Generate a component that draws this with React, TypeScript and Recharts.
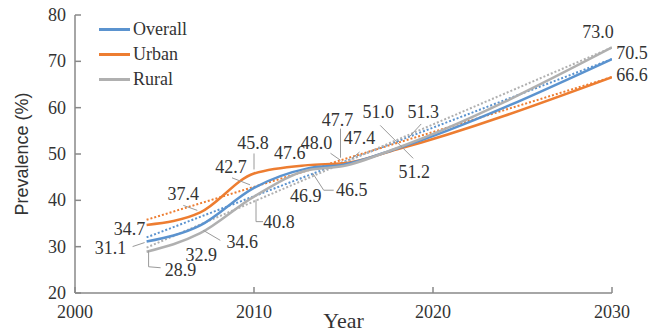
import { LineChart, Line, XAxis, YAxis, LabelList, Label } from 'recharts';

// survey years plus the 2030 projection
const years = [2004, 2007, 2010, 2013, 2015, 2018, 2030];
const overall = [31.1, 34.6, 42.7, 46.9, 47.7, 51.2, 70.5];
const urban = [34.7, 37.4, 45.8, 47.6, 48.0, 51.0, 66.6];
const rural = [28.9, 32.9, 40.8, 46.5, 47.4, 51.3, 73.0];

// linear trend end points
const trendYears = [2004, 2030];
const overallTrend = [32.0, 70.5];
const urbanTrend = [35.8, 66.6];
const ruralTrend = [29.8, 73.0];

const xTicks = [2000, 2010, 2020, 2030];
const yTicks = [20, 30, 40, 50, 60, 70, 80];

const BLUE = '#5b93cf';
const ORANGE = '#ed7d31';
const GRAY = '#b0b0b0';
const TEXT = '#333';
const SERIF = '"Liberation Serif", "DejaVu Serif", serif';

const chartData = years.map((year, i) => ({
  year,
  overall: overall[i],
  urban: urban[i],
  rural: rural[i],
}));

const trendData = trendYears.map((year, i) => ({
  year,
  overall: overallTrend[i],
  urban: urbanTrend[i],
  rural: ruralTrend[i],
}));

// callout placement per point: label offset and leader polyline, relative to the point
type Callout = { dx: number; dy: number; leader?: [number, number][] };

const urbanCallouts: Callout[] = [
  { dx: -17, dy: 4 },
  { dx: -17, dy: -18, leader: [[-17, -7], [-3, -2]] },
  { dx: -1, dy: -30, leader: [[0, -20], [0, -4]] },
  { dx: -18, dy: -12 },
  { dx: -27, dy: -20, leader: [[-13, -10], [-3, -3]] },
  { dx: -19, dy: -37, leader: [[-17, -24], [16, 9]] },
  { dx: 20, dy: -2 },
];

const overallCallouts: Callout[] = [
  { dx: -36, dy: 6, leader: [[-14, 5], [-2, 1]] },
  { dx: 42, dy: 17, leader: [[20, 15], [3, 5]] },
  { dx: -23, dy: -21, leader: [[-22, -10], [-4, -3]] },
  { dx: -2, dy: 28 },
  { dx: -6, dy: -45, leader: [[-3, -36], [-3, -7]] },
  { dx: 17, dy: 24 },
  { dx: 20, dy: -6 },
];

const ruralCallouts: Callout[] = [
  { dx: 34, dy: 18, leader: [[2, -1], [2, 15], [14, 16]] },
  { dx: 1, dy: 22 },
  { dx: 25, dy: 25, leader: [[2, 3], [2, 25], [9, 25]] },
  { dx: 44, dy: 20, leader: [[26, 20], [16, 20], [5, 3]] },
  { dx: 16, dy: -28, leader: [[16, -14], [8, -7]] },
  { dx: 26, dy: -36, leader: [[24, -24], [12, -11]] },
  { dx: -14, dy: -15 },
];

const makeCallout = (layout: Callout[]) => (props: any) => {
  const { x, y, value, index } = props;
  const c = layout[index];
  if (!c || x == null || y == null) return null;
  return (
    <g key={`c-${index}`}>
      {c.leader && (
        <polyline
          points={c.leader.map(([px, py]) => `${x + px},${y + py}`).join(' ')}
          fill="none"
          stroke="#9a9a9a"
          strokeWidth={1}
        />
      )}
      <text
        x={x + c.dx}
        y={y + c.dy}
        textAnchor="middle"
        dominantBaseline="central"
        fontFamily={SERIF}
        fontSize={18}
        fill={TEXT}
      >
        {Number(value).toFixed(1)}
      </text>
    </g>
  );
};

const XTick = (props: any) => {
  const { x, y, payload } = props;
  return (
    <g>
      <line x1={x} y1={y} x2={x} y2={y - 6} stroke="#888" strokeWidth={1.5} />
      <text x={x} y={y + 19} textAnchor="middle" dominantBaseline="central" fontFamily={SERIF} fontSize={18} fill={TEXT}>
        {payload.value}
      </text>
    </g>
  );
};

const YTick = (props: any) => {
  const { x, y, payload } = props;
  return (
    <g>
      <line x1={x} y1={y} x2={x + 6} y2={y} stroke="#888" strokeWidth={1.5} />
      <text x={x - 9} y={y} textAnchor="end" dominantBaseline="central" fontFamily={SERIF} fontSize={18} fill={TEXT}>
        {payload.value}
      </text>
    </g>
  );
};

const legendItems = [
  { name: 'Overall', color: BLUE },
  { name: 'Urban', color: ORANGE },
  { name: 'Rural', color: GRAY },
];

// legend drawn as an overlay so it does not take room from the plot
function ChartLegend() {
  return (
    <div
      style={{
        position: 'absolute',
        left: 99,
        top: 17,
        fontFamily: SERIF,
        fontSize: 18,
        color: TEXT,
        lineHeight: '25px',
      }}
    >
      {legendItems.map((item) => (
        <div key={item.name} style={{ display: 'flex', alignItems: 'center', height: 25 }}>
          <span style={{ display: 'inline-block', width: 31, height: 3, background: item.color, marginRight: 3 }} />
          {item.name}
        </div>
      ))}
    </div>
  );
}

export default function App() {
  return (
    <div style={{ position: 'absolute', left: 0, top: 0, width: 650, height: 332, background: '#fff' }}>
      <LineChart
        width={650}
        height={332}
        data={chartData}
        margin={{ top: 15, right: 38, bottom: 0, left: 0 }}
      >
        <XAxis
          dataKey="year"
          type="number"
          domain={[2000, 2030]}
          ticks={xTicks}
          interval={0}
          height={39}
          tickSize={0}
          tickMargin={0}
          tick={<XTick />}
          stroke="#888"
          strokeWidth={1.5}
          allowDataOverflow
        >
          <Label
            content={(p: any) => {
              const vb = p.viewBox;
              return (
                <text x={vb.x + vb.width / 2} y={vb.y + 35} textAnchor="middle" fontFamily={SERIF} fontSize={22} fill={TEXT}>
                  Year
                </text>
              );
            }}
          />
        </XAxis>
        <YAxis
          type="number"
          domain={[20, 80]}
          ticks={yTicks}
          interval={0}
          width={75}
          tickSize={0}
          tickMargin={0}
          tick={<YTick />}
          stroke="#888"
          strokeWidth={1.5}
        >
          <Label
            content={(p: any) => {
              const vb = p.viewBox;
              const cx = vb.x + 22;
              const cy = vb.y + vb.height / 2;
              return (
                <text
                  x={cx}
                  y={cy}
                  transform={`rotate(-90 ${cx} ${cy})`}
                  textAnchor="middle"
                  dominantBaseline="central"
                  fontFamily='"Liberation Sans", Arial, sans-serif'
                  fontSize={18}
                  fill={TEXT}
                >
                  Prevalence (%)
                </text>
              );
            }}
          />
        </YAxis>

        {/* dotted linear trends */}
        <Line data={trendData} dataKey="urban" type="linear" stroke={ORANGE} strokeWidth={2} strokeDasharray="2 2" dot={false} legendType="none" isAnimationActive={false} />
        <Line data={trendData} dataKey="overall" type="linear" stroke={BLUE} strokeWidth={2} strokeDasharray="2 2" dot={false} legendType="none" isAnimationActive={false} />
        <Line data={trendData} dataKey="rural" type="linear" stroke={GRAY} strokeWidth={2} strokeDasharray="2 2" dot={false} legendType="none" isAnimationActive={false} />

        {/* observed and projected prevalence */}
        <Line dataKey="urban" name="Urban" type="monotone" stroke={ORANGE} strokeWidth={2.5} dot={false} isAnimationActive={false}>
          <LabelList dataKey="urban" content={makeCallout(urbanCallouts)} />
        </Line>
        <Line dataKey="overall" name="Overall" type="monotone" stroke={BLUE} strokeWidth={2.5} dot={false} isAnimationActive={false}>
          <LabelList dataKey="overall" content={makeCallout(overallCallouts)} />
        </Line>
        <Line dataKey="rural" name="Rural" type="monotone" stroke={GRAY} strokeWidth={2.5} dot={false} isAnimationActive={false}>
          <LabelList dataKey="rural" content={makeCallout(ruralCallouts)} />
        </Line>
      </LineChart>
      <ChartLegend />
    </div>
  );
}
